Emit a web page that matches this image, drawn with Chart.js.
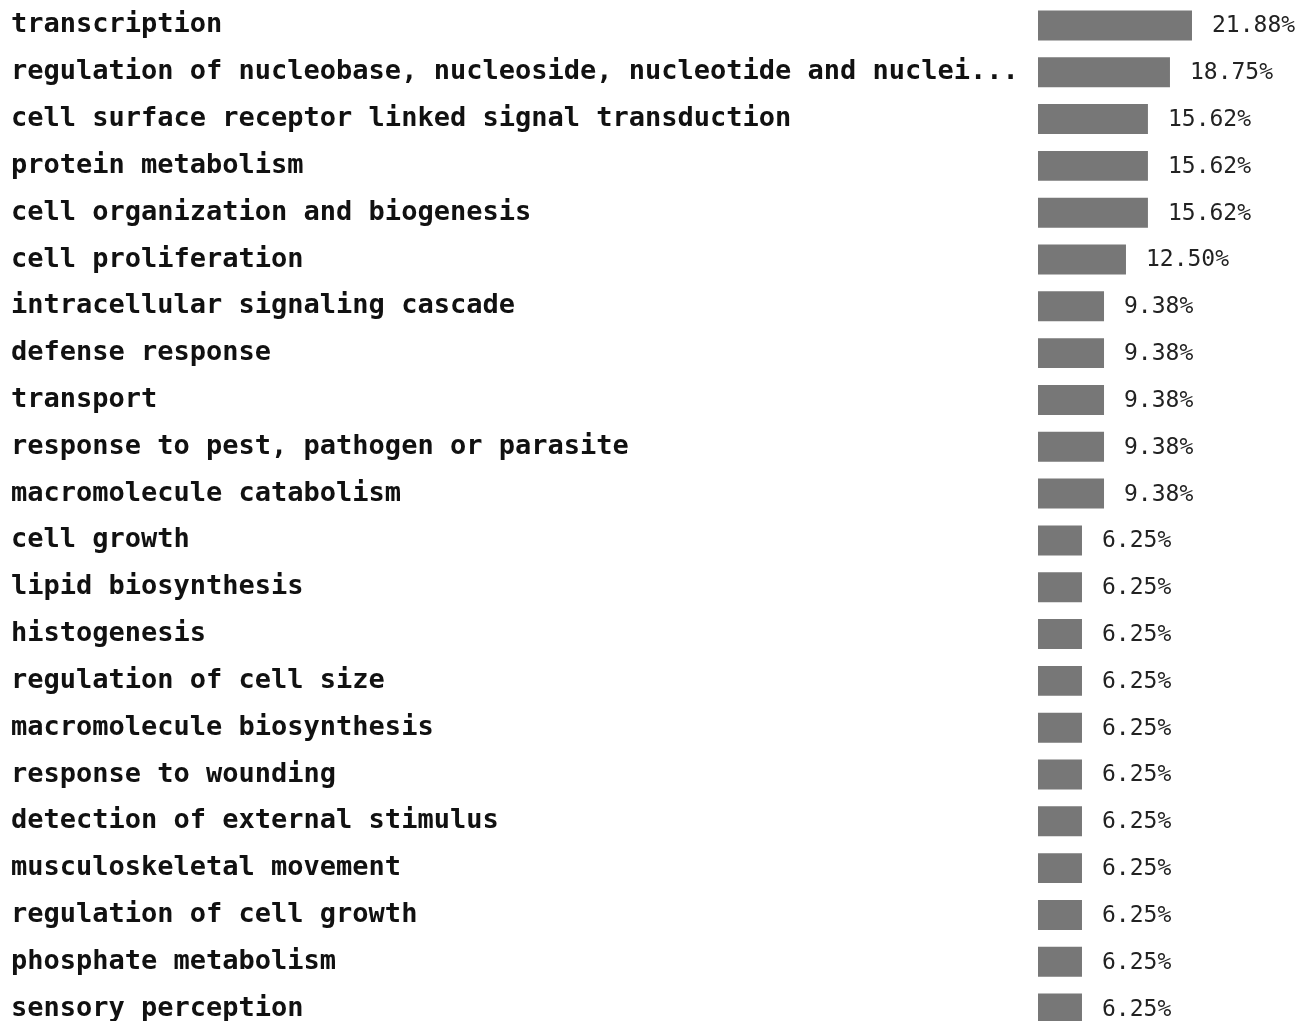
<!DOCTYPE html>
<html>
<head>
<meta charset="utf-8">
<script src="https://cdn.jsdelivr.net/npm/chart.js@4/dist/chart.umd.min.js"></script>
<style>
    html, body { margin: 0; padding: 0; background: #fff; overflow: hidden; }
    #wrap { width: 1297px; height: 1032px; }
</style>
</head>
<body>
<div id="wrap"><canvas id="chart" width="1297" height="1032"></canvas></div>
<script>
// Categories and percentages
const categories = [
    'transcription',
    'regulation of nucleobase, nucleoside, nucleotide and nuclei...',
    'cell surface receptor linked signal transduction',
    'protein metabolism',
    'cell organization and biogenesis',
    'cell proliferation',
    'intracellular signaling cascade',
    'defense response',
    'transport',
    'response to pest, pathogen or parasite',
    'macromolecule catabolism',
    'cell growth',
    'lipid biosynthesis',
    'histogenesis',
    'regulation of cell size',
    'macromolecule biosynthesis',
    'response to wounding',
    'detection of external stimulus',
    'musculoskeletal movement',
    'regulation of cell growth',
    'phosphate metabolism',
    'sensory perception'
];
const percentages = [
    21.88, 18.75, 15.62, 15.62, 15.62, 12.50,
    9.38, 9.38, 9.38, 9.38, 9.38,
    6.25, 6.25, 6.25, 6.25, 6.25, 6.25, 6.25, 6.25, 6.25, 6.25, 6.25
];
const xMax = 36.8;

// Draw the "xx.xx%" text after each bar
const valueLabels = {
    id: 'valueLabels',
    afterDatasetsDraw(chart) {
        const ctx = chart.ctx;
        const meta = chart.getDatasetMeta(0);
        ctx.save();
        ctx.font = '23px "DejaVu Sans Mono", monospace';
        ctx.fillStyle = '#222';
        ctx.textAlign = 'left';
        ctx.textBaseline = 'middle';
        meta.data.forEach((bar, i) => {
            ctx.fillText(percentages[i].toFixed(2) + '%', bar.x + 20, bar.y + 1);
        });
        ctx.restore();
    }
};

const ctx = document.getElementById('chart').getContext('2d');
new Chart(ctx, {
    type: 'bar',
    data: {
        labels: categories,
        datasets: [{
            data: percentages,
            backgroundColor: '#777777',
            borderWidth: 0,
            barPercentage: 0.64,
            categoryPercentage: 1
        }]
    },
    options: {
        indexAxis: 'y',
        responsive: false,
        animation: false,
        layout: { padding: { left: 11, right: 0, top: 2, bottom: 0 } },
        plugins: {
            legend: { display: false },
            tooltip: { enabled: false }
        },
        scales: {
            x: {
                display: false,
                min: 0,
                max: xMax
            },
            y: {
                grid: { display: false },
                border: { display: false },
                afterFit(scale) {
                    scale.width = 1027;
                    scale.paddingTop = 0;
                    scale.paddingBottom = 0;
                },
                ticks: {
                    crossAlign: 'far',
                    color: '#111',
                    font: { family: '"DejaVu Sans Mono", monospace', size: 27, weight: 'bold' }
                }
            }
        }
    },
    plugins: [valueLabels]
});
</script>
</body>
</html>
